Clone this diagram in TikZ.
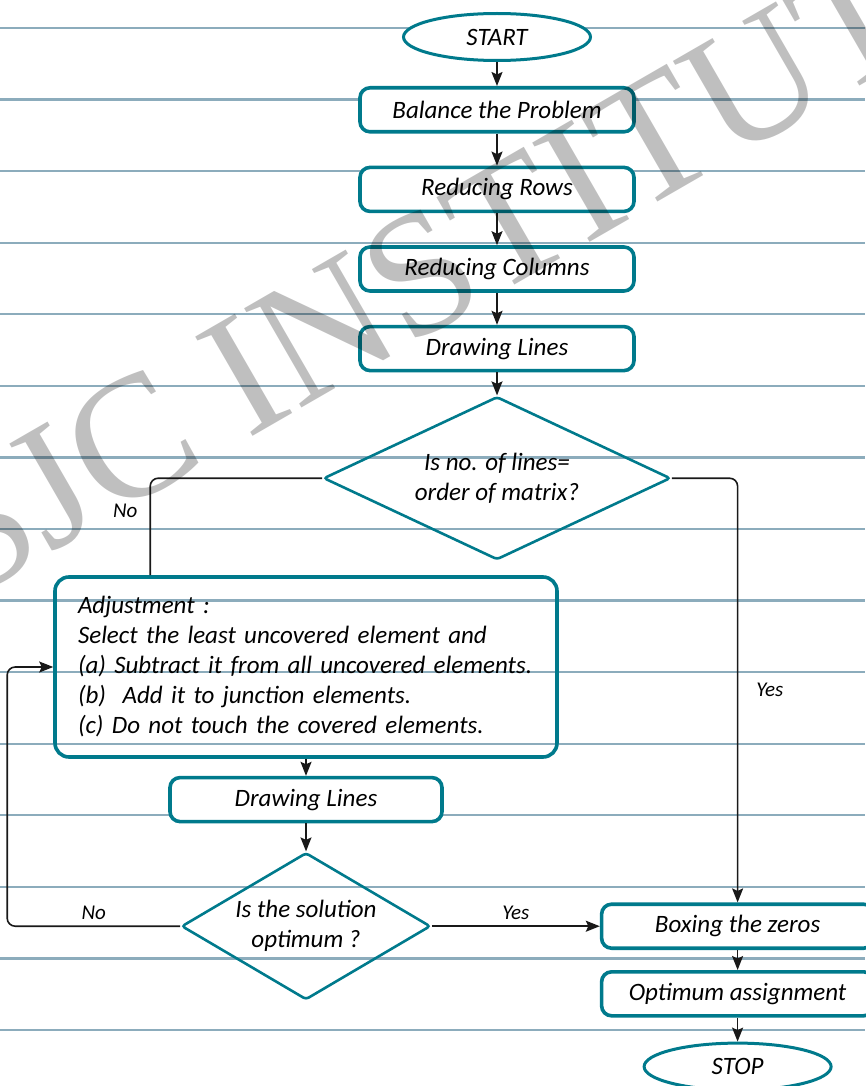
\documentclass[tikz,border=0pt]{standalone}
\usepackage{fontspec}
\setmainfont{Carlito}
\newfontfamily\markfont{Liberation Serif}
\usetikzlibrary{shapes.geometric, arrows.meta, positioning, backgrounds}
\definecolor{tealBox}{RGB}{0,122,140}
\definecolor{ruleBlue}{RGB}{140,172,188}
\tikzset{
  fc/term/.style={ellipse, draw=tealBox, fill=white, line width=3pt,
    minimum width=187pt, minimum height=47pt, inner sep=0pt,
    font=\fontsize{25}{30}\selectfont\itshape},
  fc/op/.style={rectangle, rounded corners=10pt, draw=tealBox, fill=white,
    line width=3.6pt, minimum width=274pt, minimum height=44pt, inner sep=0pt,
    font=\fontsize{25}{30}\selectfont\itshape},
  fc/note/.style={rectangle, rounded corners=14pt, draw=tealBox,
    line width=3.6pt, minimum width=502pt, minimum height=180pt,
    text width=456pt, align=left, font=\fontsize{25}{30}\selectfont\itshape},
  fc/dec/.style={diamond, draw=tealBox, line width=2.6pt, rounded corners=3pt,
    inner sep=0pt, align=center, font=\fontsize{25}{30}\selectfont\itshape},
  fc/arr/.style={-{Stealth[length=14pt,width=11pt,inset=2.5pt]},
    line width=1.6pt, draw=black!90},
  fc/link/.style={line width=1.6pt, draw=black!90},
  fc/lbl/.style={font=\fontsize{21}{24}\selectfont\itshape, inner sep=2pt},
  ruled/.style={draw=ruleBlue, line width=2.4pt}
}

\begin{document}
\begin{tikzpicture}[x=1pt, y=1pt]
  \useasboundingbox (0,0) rectangle (865,-1086);
  % ruled paper
  \foreach \k in {0,...,14}
    \draw[ruled] (0,{-28-71.57*\k}) -- (865,{-28-71.57*\k});

  \node[fc/term] (start) at (497,-37) {START};
  \node[fc/op, below=24pt of start] (bal) {Balance the Problem};
  \node[fc/op, below=32pt of bal] (rows) {Reducing Rows};
  \node[fc/op, below=32pt of rows] (cols) {Reducing Columns};
  \node[fc/op, below=32pt of cols] (lines) {Drawing Lines};
  \node[fc/dec, aspect=2.13, minimum width=347pt, minimum height=163pt,
        below=23pt of lines] (chk) {Is no. of lines=\\order of matrix?};
  \node[fc/note] (adj) at (306,-667) {Adjustment :\\
        Select the least uncovered element and\\
        (a) Subtract it from all uncovered elements.\\
        (b)\ \ Add it to junction elements.\\
        (c) Do not touch the covered elements.};
  \node[fc/op, minimum width=272pt, below=17pt of adj] (lines2) {Drawing Lines};
  \node[fc/dec, aspect=1.69, minimum width=249pt, minimum height=147pt,
        below=28pt of lines2] (opt) {Is the solution\\optimum ?};
  \node[fc/op, minimum width=272pt, right=168pt of opt] (box) {Boxing the zeros};
  \node[fc/op, minimum width=272pt, below=20pt of box] (assign) {Optimum assignment};
  \node[fc/term, below=24pt of assign] (stop) {STOP};

  \draw[fc/arr] (start) -- (bal);
  \draw[fc/arr] (bal) -- (rows);
  \draw[fc/arr] (rows) -- (cols);
  \draw[fc/arr] (cols) -- (lines);
  \draw[fc/arr] (lines) -- (chk);
  \draw[fc/arr, rounded corners=8pt] (chk.east) -|
        node[fc/lbl, pos=0.75, right=16pt]{Yes} (box.north);
  \draw[fc/link, rounded corners=8pt] (chk.west) -|
        node[fc/lbl, pos=0.67, left=10pt]{No} ([xshift=97pt]adj.north west);
  \draw[fc/arr] (adj.south) -- (lines2.north);
  \draw[fc/arr] (lines2) -- (opt);
  \draw[fc/arr] (opt) -- node[fc/lbl, above=4pt]{Yes} (box);
  \draw[fc/arr, rounded corners=8pt] (opt.west) --
        node[fc/lbl, above=4pt]{No} ++(-173,0) |- (adj.west);
  \draw[fc/arr] (box) -- (assign);
  \draw[fc/arr] (assign) -- (stop);

  % watermark
  \node[font=\markfont\fontsize{175}{175}\selectfont, text=black,
        opacity=0.25, rotate=30] (mark) at (465,-248) {SJC INSTITUTE};
\end{tikzpicture}
\end{document}
